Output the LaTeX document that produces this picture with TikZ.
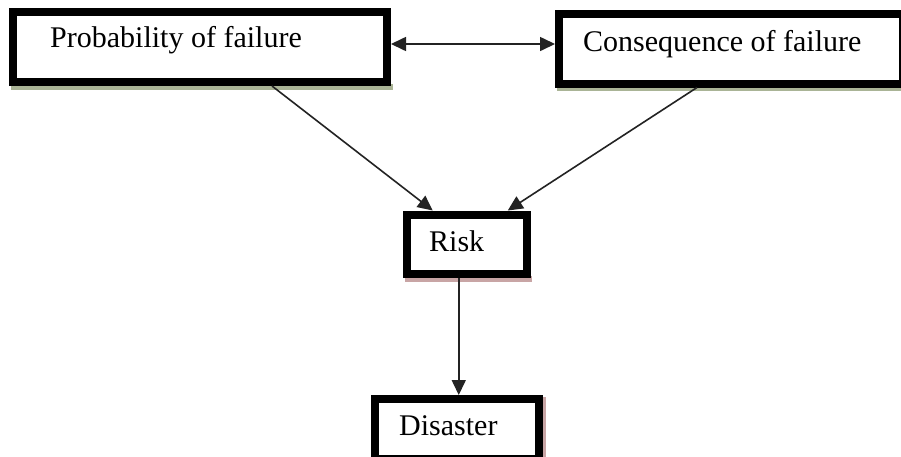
\documentclass[tikz,border=0pt]{standalone}
\usepackage{fontspec}
\setmainfont{Liberation Serif}
\usetikzlibrary{arrows.meta,calc}
\definecolor{shgreen}{RGB}{170,180,150}
\definecolor{shpink}{RGB}{200,165,165}
\definecolor{linegray}{RGB}{35,35,35}
\tikzset{
  box/.style={draw=black, line width=8pt, fill=white, rectangle, inner sep=0pt},
  lbl/.style={anchor=base west, inner sep=0pt, font=\fontsize{30pt}{34pt}\selectfont},
  tip/.style={Triangle[length=15pt,width=14pt]},
  arr/.style={draw=linegray, line width=1.6pt, -{Triangle[length=15pt,width=14pt]}},
  darr/.style={draw=linegray, line width=1.6pt, {Triangle[length=15pt,width=14pt]}-{Triangle[length=15pt,width=14pt]}}
}
\begin{document}
\begin{tikzpicture}[x=1pt,y=-1pt]
\useasboundingbox (0,0) rectangle (901,456);
\clip (0,0) rectangle (901,456);
\fill[white] (0,0) rectangle (901,456);
% shadows
\fill[shgreen] (11,84) rectangle (393,90);
\fill[shgreen] (557,85) rectangle (905,91);
\fill[shpink] (405,276) rectangle (532,282);
\fill[shpink] (541,397) rectangle (546,460);
% boxes
\node[box, minimum width=374pt, minimum height=70pt] (p1) at (200,47) {};
\node[box, minimum width=344pt, minimum height=70pt] (p2) at (731,48.5) {};
\node[box, minimum width=119.5pt, minimum height=59.5pt] (risk) at (466.75,244.25) {};
\node[box, minimum width=164.5pt, minimum height=60pt] (dis) at (456.75,429) {};
% labels
\node[lbl] (t1) at (50,47.5) {Probability of failure};
\node[lbl] (t2) at (583,51.5) {Consequence of failure};
\node[lbl] (t3) at (429,251.5) {Risk};
\node[lbl] (t4) at (399,435) {Disaster};
% connectors
\coordinate (m1) at ([yshift=3pt]p1.east);
\draw[darr] (m1) -- (m1 -| p2.west);
\draw[arr] ([xshift=72pt]p1.south) -- ([xshift=-34pt]risk.north);
\draw[arr] ([xshift=-34pt]p2.south) -- ([xshift=41pt]risk.north);
\coordinate (r3) at ([xshift=-8pt]risk.south);
\draw[arr] (r3) -- (r3 |- dis.north);
\end{tikzpicture}
\end{document}
